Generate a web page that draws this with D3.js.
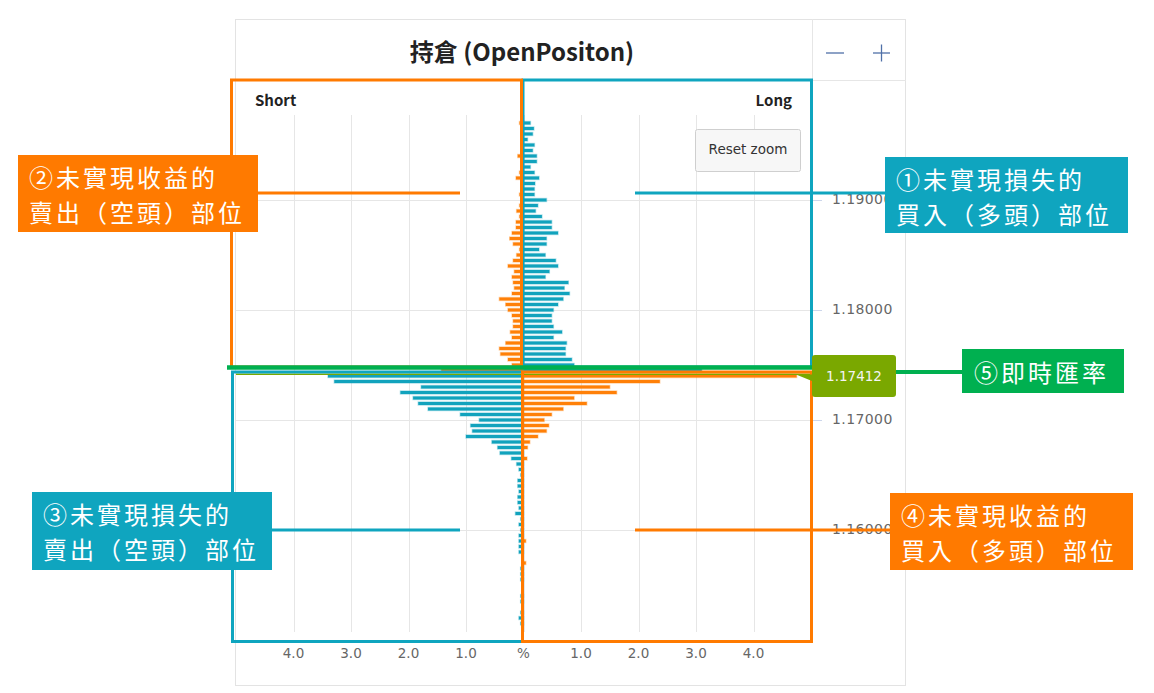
<!DOCTYPE html>
<html><head><meta charset="utf-8">
<script src="https://cdn.jsdelivr.net/npm/d3@7"></script>
<style>
html,body{margin:0;padding:0;background:#fff;}
svg{display:block;}
</style></head>
<body>
<svg id="c" width="1154" height="693"></svg>
<script>
// ---- data ----
const prices = [1.1970,1.1965,1.1960,1.1955,1.1950,1.1945,1.1940,1.1935,1.1930,1.1925,1.1920,1.1915,1.1910,1.1905,1.1900,1.1895,1.1890,1.1885,1.1880,1.1875,1.1870,1.1865,1.1860,1.1855,1.1850,1.1845,1.1840,1.1835,1.1830,1.1825,1.1820,1.1815,1.1810,1.1805,1.1800,1.1795,1.1790,1.1785,1.1780,1.1775,1.1770,1.1765,1.1760,1.1755,1.1750,1.1745,1.1740,1.1735,1.1730,1.1725,1.1720,1.1715,1.1710,1.1705,1.1700,1.1695,1.1690,1.1685,1.1680,1.1675,1.1670,1.1665,1.1660,1.1655,1.1650,1.1645,1.1640,1.1635,1.1630,1.1625,1.1620,1.1615,1.1610,1.1605,1.1600,1.1595,1.1590,1.1585,1.1580,1.1575,1.1570,1.1565,1.1560,1.1555,1.1550,1.1545,1.1540,1.1535,1.1530,1.1525,1.1520,1.1515];
const shortPct = [0.07,0,0,0,0,0,0.10,0,0,0.07,0.13,0,0,0.07,0,0.07,0.12,0.07,0.13,0.13,0.20,0.24,0.18,0.07,0.12,0.18,0.27,0.16,0.20,0.18,0.16,0.20,0.42,0.31,0.27,0.20,0.18,0.18,0.23,0.20,0.31,0.42,0.40,0.27,0.20,1.43,3.40,3.29,1.78,2.14,1.92,1.83,1.66,1.10,0.77,0.92,0.89,1.00,0.55,0.45,0.41,0.21,0.12,0.08,0.05,0.10,0.10,0.08,0.10,0.10,0.08,0.14,0.05,0.08,0.05,0.08,0.08,0.08,0.08,0,0.03,0.05,0.05,0.05,0,0,0.05,0.05,0,0.05,0.08,0.05];
const longPct = [0.12,0.18,0.16,0.07,0.19,0.16,0.23,0.23,0.12,0.19,0.27,0.20,0.19,0.19,0.40,0.25,0.21,0.32,0.49,0.49,0.60,0.40,0.40,0.27,0.38,0.56,0.60,0.45,0.38,0.78,0.71,0.80,0.69,0.60,0.52,0.49,0.49,0.52,0.67,0.52,0.75,0.73,0.73,0.84,0.88,3.10,4.75,2.37,1.50,1.62,0.88,1.10,0.69,0.49,0.36,0.44,0.40,0.25,0.11,0.07,0,0.06,0,0,0,0,0,0,0,0,0,0,0,0,0,0,0.04,0,0,0,0.04,0,0,0,0,0,0,0,0,0,0,0];
const currentRate = 1.17412;
const xTicks = [-4,-3,-2,-1,0,1,2,3,4];
const yTicks = [1.16,1.17,1.18,1.19];
const title = "持倉 (OpenPositon)";
const notes = [
  {id:1, lines:["①未實現損失的","買入（多頭）部位"], kind:"blue"},
  {id:2, lines:["②未實現收益的","賣出（空頭）部位"], kind:"orange"},
  {id:3, lines:["③未實現損失的","賣出（空頭）部位"], kind:"blue"},
  {id:4, lines:["④未實現收益的","買入（多頭）部位"], kind:"orange"},
  {id:5, lines:["⑤即時匯率"], kind:"green"}
];

// ---- styles ----
const C = {blue:"#0fa5bf", orange:"#ff7a00", green:"#00b050", olive:"#7aa800",
           barBlue:"#12a3bd", barOrange:"#ff8008", grid:"#e6e6e6", label:"#666"};
const svg = d3.select("#c");
const plot = {l:236, r:811, t:115, b:632};

const x = d3.scaleLinear().domain([-5,5]).range([plot.l, plot.r]);
const y = d3.scaleLinear().domain([1.150727,1.197727]).range([plot.b, plot.t]);

// frame
svg.append("rect").attr("x",235.5).attr("y",19.5).attr("width",670).attr("height",666)
  .attr("fill","#fff").attr("stroke","#e3e3e3");
svg.append("line").attr("x1",235).attr("x2",906).attr("y1",80.5).attr("y2",80.5).attr("stroke","#e6e6e6");
svg.append("line").attr("x1",812.5).attr("x2",812.5).attr("y1",19).attr("y2",80).attr("stroke","#e6e6e6");

// title
svg.append("text").attr("x",522).attr("y",50).attr("text-anchor","middle")
  .attr("dominant-baseline","central")
  .style("font-family","'Noto Sans CJK TC','Noto Sans',sans-serif").style("font-weight","bold")
  .style("font-size","24px").attr("fill","#222").text(title);

// zoom buttons
const zb = svg.append("g").attr("stroke","#4f70a8").attr("stroke-width",1.3);
zb.append("line").attr("x1",826).attr("x2",844).attr("y1",53).attr("y2",53);
zb.append("line").attr("x1",873).attr("x2",890).attr("y1",53).attr("y2",53);
zb.append("line").attr("x1",881.5).attr("x2",881.5).attr("y1",44.5).attr("y2",61.5);

// grid
const g = svg.append("g");
g.selectAll(".vg").data(xTicks).join("line")
  .attr("x1",d=>Math.round(x(d))+0.5).attr("x2",d=>Math.round(x(d))+0.5)
  .attr("y1",plot.t).attr("y2",plot.b).attr("stroke",C.grid);
g.selectAll(".hg").data(yTicks).join("line")
  .attr("x1",plot.l).attr("x2",plot.r)
  .attr("y1",d=>Math.round(y(d))+0.5).attr("y2",d=>Math.round(y(d))+0.5).attr("stroke",C.grid);
g.selectAll(".yt").data(yTicks).join("line")
  .attr("x1",plot.r).attr("x2",plot.r+11)
  .attr("y1",d=>Math.round(y(d))+0.5).attr("y2",d=>Math.round(y(d))+0.5).attr("stroke","#ccd6eb");

// axis labels
const lblFont = "'DejaVu Sans',sans-serif";
svg.selectAll(".xl").data(xTicks).join("text")
  .attr("x",d=>x(d)).attr("y",653).attr("text-anchor","middle").attr("dominant-baseline","central")
  .style("font-family",lblFont).style("font-size","13.5px").attr("fill",C.label)
  .text(d=>d===0?"%":Math.abs(d).toFixed(1));
svg.selectAll(".yl").data(yTicks).join("text")
  .attr("x",832).attr("y",d=>y(d)-1).attr("dominant-baseline","central")
  .style("font-family",lblFont).style("font-size","14px").style("letter-spacing","0.4px").attr("fill",C.label)
  .text(d=>d.toFixed(5));

// Short / Long
svg.append("text").attr("x",255).attr("y",99).attr("dominant-baseline","central")
  .style("font-family","'Noto Sans CJK TC',sans-serif").style("font-weight","bold").style("font-size","15px")
  .attr("fill","#222").text("Short");
svg.append("text").attr("x",792).attr("y",99).attr("dominant-baseline","central").attr("text-anchor","end")
  .style("font-family","'Noto Sans CJK TC',sans-serif").style("font-weight","bold").style("font-size","15px")
  .attr("fill","#222").text("Long");

// reset zoom button
svg.append("rect").attr("x",695.5).attr("y",129.5).attr("width",105).attr("height",42).attr("rx",2)
  .attr("fill","#f7f7f7").attr("stroke","#cfcfcf");
svg.append("text").attr("x",748).attr("y",149).attr("text-anchor","middle").attr("dominant-baseline","central")
  .style("font-family",lblFont).style("font-size","13.5px").attr("fill","#333").text("Reset zoom");

// bars
const rows = prices.map((p,i)=>({p, s:shortPct[i], l:longPct[i]}));
const bh = 3;
const bars = svg.append("g");
function colorOf(r,key){
  const above = r.p > currentRate;
  if(key==="s") return above ? C.barOrange : C.barBlue;
  return above ? C.barBlue : C.barOrange;
}
function drawSide(key, sign){
  bars.selectAll(".b"+key).data(rows.filter(r=>r[key]>0)).join("rect")
    .attr("x",r=> sign<0 ? x(-r[key]) : x(0))
    .attr("width",r=> Math.abs(x(r[key])-x(0)))
    .attr("y",r=>y(r.p)-bh/2).attr("height",bh)
    .attr("fill",r=>colorOf(r,key))
    .attr("stroke",r=>colorOf(r,key))
    .attr("stroke-opacity",0.35).attr("stroke-width",1.4);
}
drawSide("s",-1);
drawSide("l",1);

// current rate plot line
svg.append("line").attr("x1",plot.l).attr("x2",plot.r).attr("y1",y(currentRate)-0.5).attr("y2",y(currentRate)-0.5)
  .attr("stroke",C.olive).attr("stroke-width",1.5);

// annotation quadrant boxes
const ann = svg.append("g").attr("fill","none").attr("stroke-width",3);
ann.append("rect").attr("x",523).attr("y",80).attr("width",288.5).attr("height",287).attr("stroke",C.blue);
ann.append("rect").attr("x",231.5).attr("y",80).attr("width",290).attr("height",287).attr("stroke",C.orange);
ann.append("rect").attr("x",232.5).attr("y",372).attr("width",290).attr("height",269.5).attr("stroke",C.blue);
ann.append("rect").attr("x",522.5).attr("y",372).attr("width",289).attr("height",269.5).attr("stroke",C.orange);

// green current-rate line
svg.append("line").attr("x1",227).attr("x2",816).attr("y1",367.5).attr("y2",367.5)
  .attr("stroke",C.green).attr("stroke-width",4.5);

// current rate label (callout)
svg.append("path")
  .attr("d","M815,355 H893 Q896,355 896,358 V394 Q896,397 893,397 H815 Q812,397 812,394 V381 L796,374.5 H812 V358 Q812,355 815,355 Z")
  .attr("fill",C.olive);
svg.append("text").attr("x",854).attr("y",376).attr("text-anchor","middle").attr("dominant-baseline","central")
  .style("font-family",lblFont).style("font-size","13.5px").attr("fill","#f4f4f4").text(currentRate.toFixed(5));
svg.append("line").attr("x1",896).attr("x2",963).attr("y1",372).attr("y2",372)
  .attr("stroke",C.green).attr("stroke-width",4);

// connector lines
const conn = svg.append("g").attr("stroke-width",3);
conn.append("line").attr("x1",635).attr("x2",886).attr("y1",193).attr("y2",193).attr("stroke",C.blue);
conn.append("line").attr("x1",257).attr("x2",460).attr("y1",193).attr("y2",193).attr("stroke",C.orange);
conn.append("line").attr("x1",271).attr("x2",460).attr("y1",530).attr("y2",530).attr("stroke",C.blue);
conn.append("line").attr("x1",635).attr("x2",891).attr("y1",530).attr("y2",530).attr("stroke",C.orange);

// note boxes
const boxPos = {1:{x:885,y:157,w:243,h:76},2:{x:18,y:155,w:240,h:77},3:{x:32,y:492,w:240,h:78},4:{x:890,y:493,w:243,h:77},5:{x:962,y:349,w:162,h:44}};
const fillOf = {blue:C.blue, orange:C.orange, green:C.green};
notes.forEach(n=>{
  const b = boxPos[n.id];
  svg.append("rect").attr("x",b.x).attr("y",b.y).attr("width",b.w).attr("height",b.h).attr("fill",fillOf[n.kind]);
  const tx = b.x + (n.id===5?12:11);
  n.lines.forEach((line,i)=>{
    svg.append("text").attr("x",tx)
      .attr("y", n.lines.length===1 ? b.y+b.h/2 : b.y+21+i*35)
      .attr("dominant-baseline","central")
      .style("font-family","'Noto Sans CJK TC'").style("font-size","24px").style("letter-spacing","3px")
      .attr("fill","#fff").text(line);
  });
});
</script>
</body></html>
